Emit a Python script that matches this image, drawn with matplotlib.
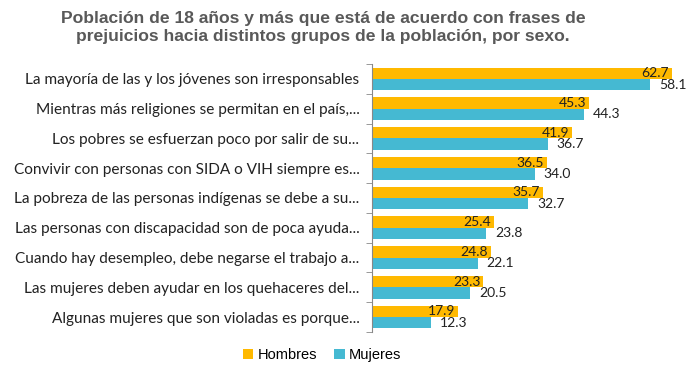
import numpy as np
import matplotlib
matplotlib.use("Agg")
import matplotlib.pyplot as plt

# datos
frases = [
    "La mayoría de las y los jóvenes son irresponsables",
    "Mientras más religiones se permitan en el país,...",
    "Los pobres se esfuerzan poco por salir de su...",
    "Convivir con personas con SIDA o VIH siempre es...",
    "La pobreza de las personas indígenas se debe a su...",
    "Las personas con discapacidad son de poca ayuda...",
    "Cuando hay desempleo, debe negarse el trabajo a...",
    "Las mujeres deben ayudar en los quehaceres del...",
    "Algunas mujeres que son violadas es porque...",
]
hombres = [62.7, 45.3, 41.9, 36.5, 35.7, 25.4, 24.8, 23.3, 17.9]
mujeres = [58.1, 44.3, 36.7, 34.0, 32.7, 23.8, 22.1, 20.5, 12.3]

c_h = "#FFB900"
c_m = "#45B9D2"

fig = plt.figure(figsize=(6.93, 3.89), dpi=100)
ax = fig.add_axes([372/693, 1-332/389, (680-372)/693, (332-64)/389])

y = np.arange(len(frases))
h = 0.38
ax.barh(y - 0.19, hombres, height=h, color=c_h, label="Hombres")
ax.barh(y + 0.19, mujeres, height=h, color=c_m, label="Mujeres")

for i in range(len(frases)):
    ax.annotate("%.1f" % hombres[i], (hombres[i], y[i] - 0.19), xytext=(-2, 0),
                textcoords="offset points", ha="right", va="center",
                fontsize=10, family="Lato", color="#222222")
    ax.annotate("%.1f" % mujeres[i], (mujeres[i], y[i] + 0.19), xytext=(6.5, 0),
                textcoords="offset points", ha="left", va="center",
                fontsize=10, family="Lato", color="#222222")

ax.set_xlim(0, (680-372)/4.785)
ax.set_ylim(len(frases) - 0.5, -0.5)
ax.set_yticks(y)
ax.set_yticklabels(frases, fontsize=11.1, family="Lato", color="#222222")
ax.set_yticks(np.arange(len(frases) + 1) - 0.5, minor=True)
ax.tick_params(axis="y", which="major", length=0, pad=9)
ax.tick_params(axis="y", which="minor", length=4, color="#888888")
ax.set_xticks([])
for s in ["top", "right", "bottom"]:
    ax.spines[s].set_visible(False)
ax.spines["left"].set_color("#888888")

fig.text(323/693, 1-27/389,
         "Población de 18 años y más que está de acuerdo con frases de\nprejuicios hacia distintos grupos de la población, por sexo.",
         ha="center", va="center", fontsize=12.6, fontweight="bold",
         family="Liberation Sans", color="#595959", linespacing=1.25)

fig.legend(loc="center", bbox_to_anchor=(322/693, 1-355/389), ncol=2, frameon=False,
           prop={"family": "Liberation Sans", "size": 10.5}, handlelength=0.7,
           handleheight=0.7, handletextpad=0.3, columnspacing=1.2)

fig.savefig("out.png", dpi=100)
